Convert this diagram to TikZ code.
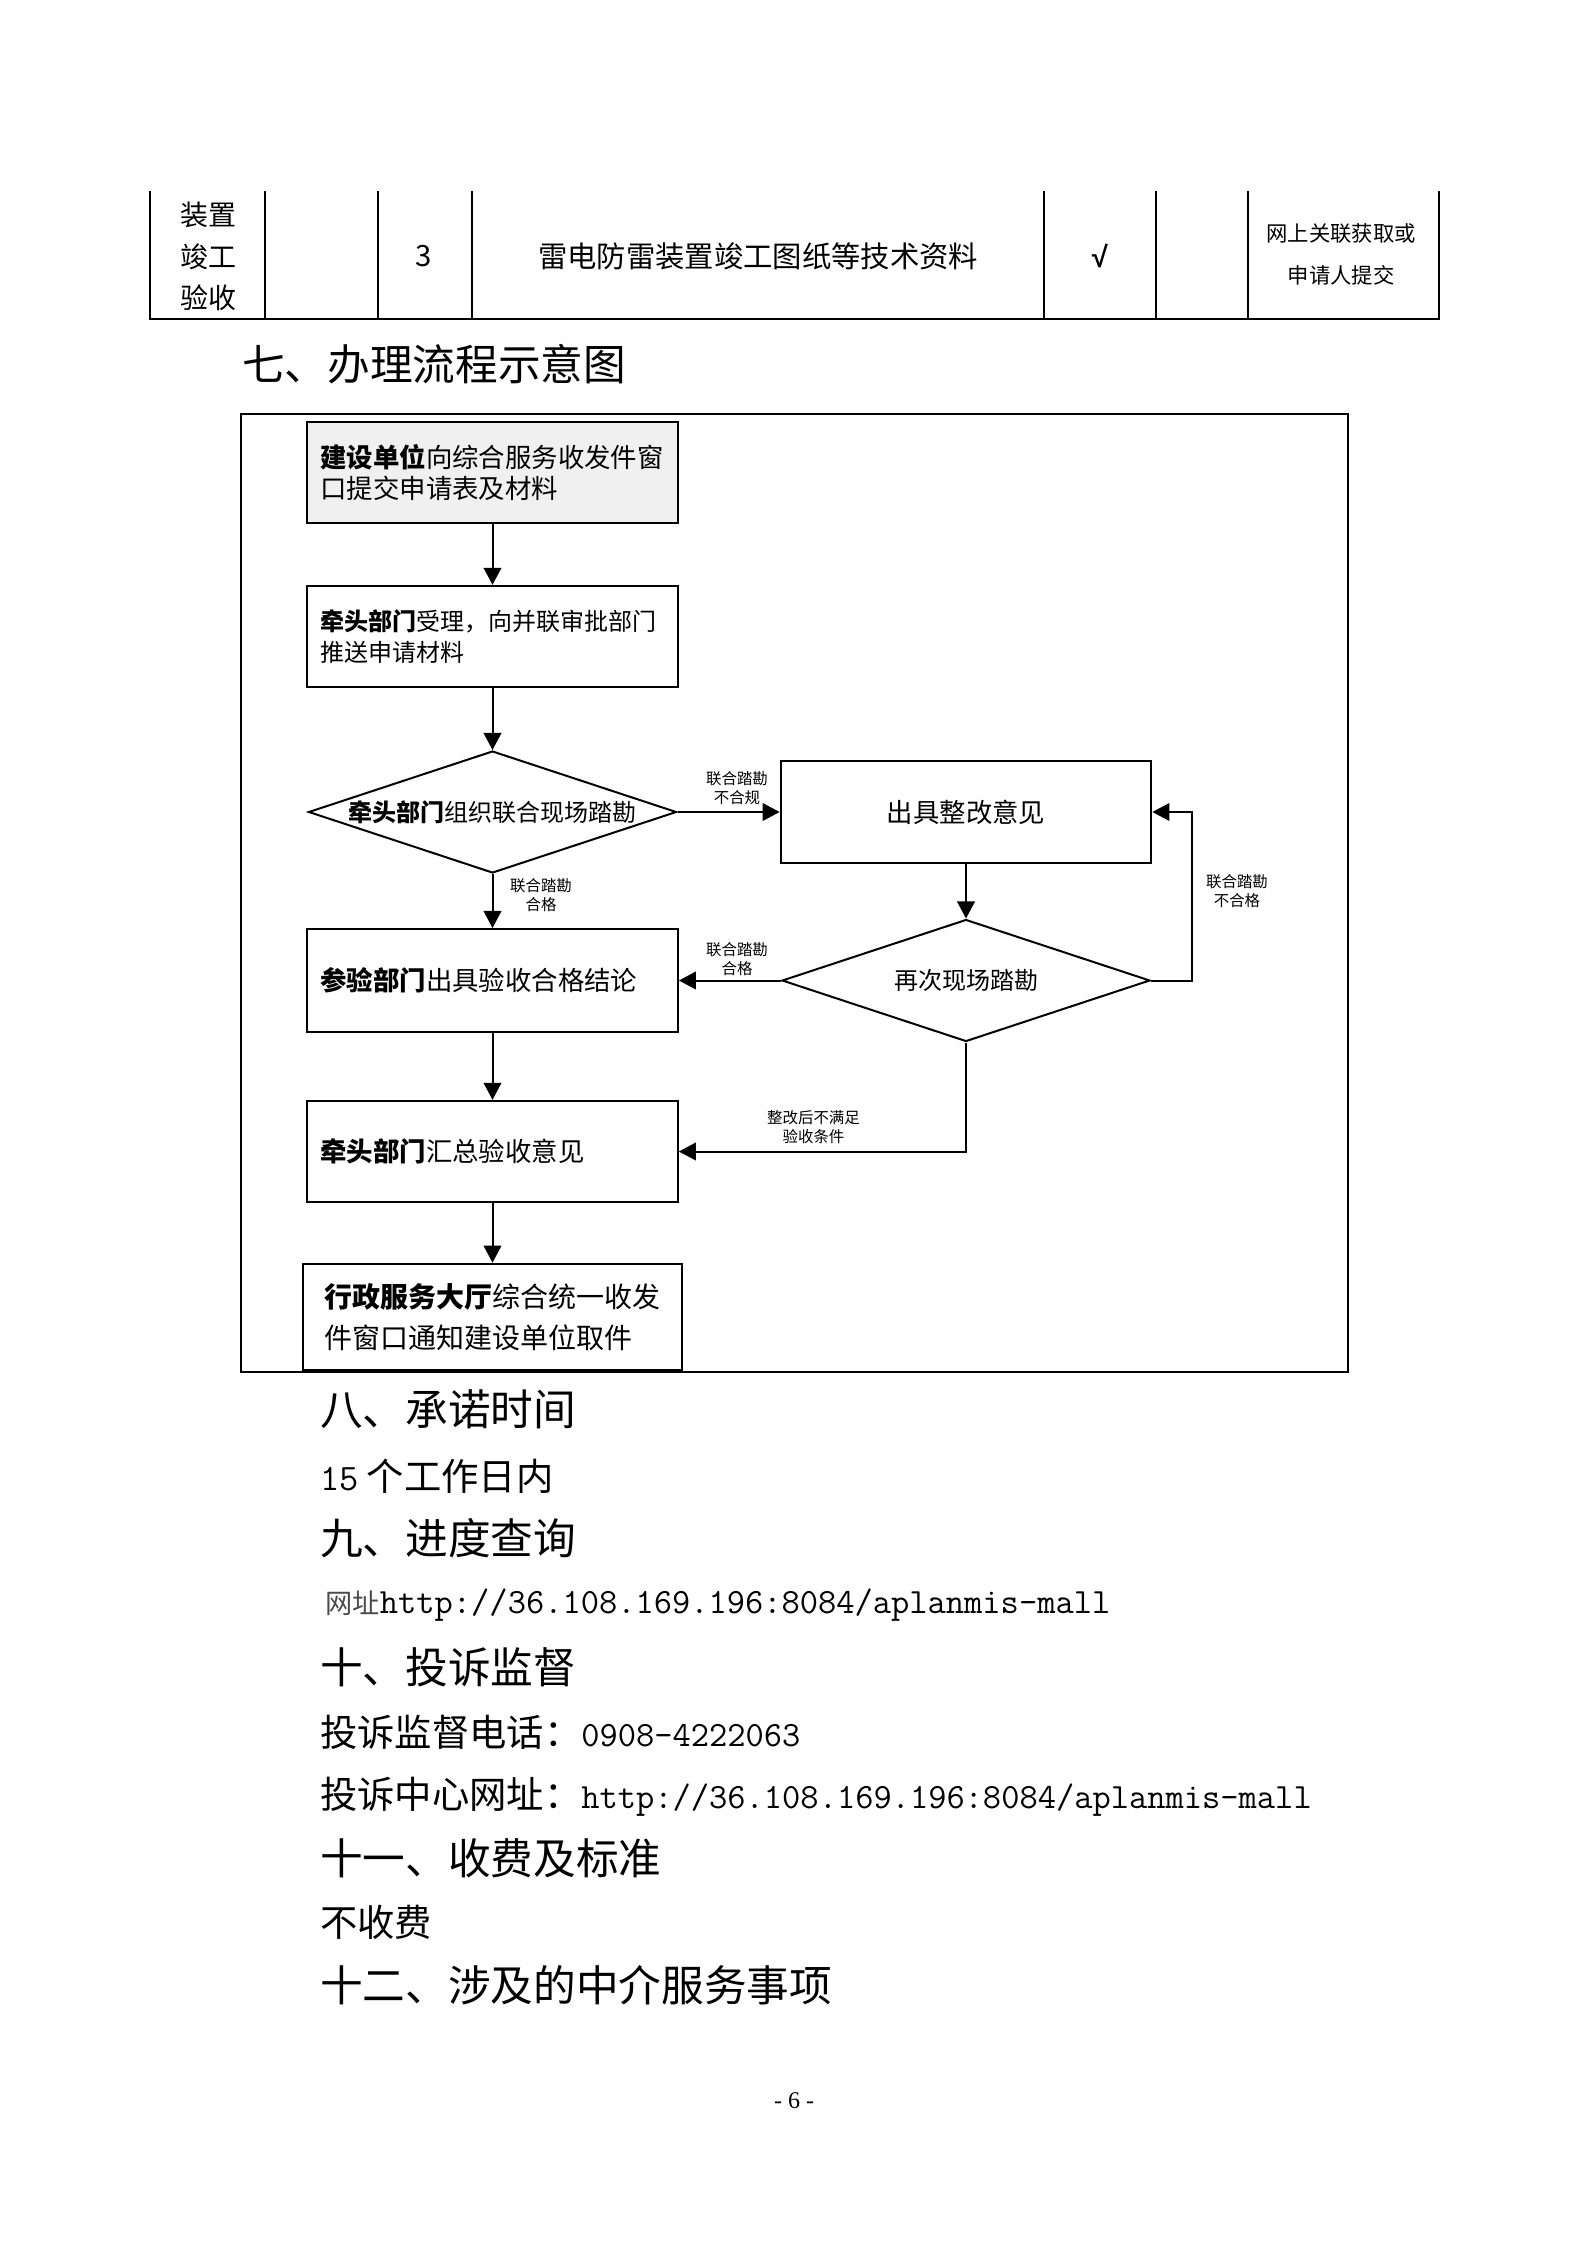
\documentclass[tikz,border=0pt]{standalone}
\usepackage{fontspec}
\setmainfont{Noto Sans CJK SC}
\newfontfamily\pagenumfont{Liberation Serif}
\newfontfamily\tickfont{Liberation Sans}
\usetikzlibrary{arrows.meta,shapes.geometric}

\begin{document}
\begin{tikzpicture}[x=0.375pt,y=-0.375pt,line width=0.75pt,
  >={Triangle[length=6.4pt,width=6.6pt]},
  flowbox/.style={draw,rectangle,minimum width=139pt,minimum height=38pt,
    text width=129pt,inner xsep=5pt,align=left,font=\fontsize{9.9}{11.6}\selectfont},
  decision/.style={draw,diamond,aspect=3,inner sep=0pt,minimum width=138pt,
    minimum height=45.75pt,font=\fontsize{9}{11}\selectfont},
  smalllbl/.style={inner sep=0pt,align=center,font=\fontsize{5.8}{7.1}\selectfont},
  heading/.style={anchor=west,inner sep=0pt,font=\fontsize{16}{19}\selectfont},
  bodyline/.style={anchor=west,inner sep=0pt,font=\fontsize{14}{17}\selectfont},
  tabcell/.style={inner sep=0pt,align=center}]
\fill[white] (0,0) rectangle (1587,2245);
\useasboundingbox (0,0) rectangle (1587,2245);
% ================= table (continued) =================
\draw[line width=0.6pt] (150,191) -- (150,319) -- (1439,319) -- (1439,191);
\draw[line width=0.6pt] (265,191) -- (265,319) (378,191) -- (378,319)
  (472,191) -- (472,319) (1044,191) -- (1044,319)
  (1156,191) -- (1156,319) (1248,191) -- (1248,319);
\node[tabcell,font=\fontsize{10.5}{15.6}\selectfont] (item) at (208,256.5) {装置\\竣工\\验收};
\node[tabcell,font=\fontsize{11}{13}\selectfont] (num) at (424,256) {3};
\node[tabcell,font=\fontsize{11}{13}\selectfont] (doc) at (758,256) {雷电防雷装置竣工图纸等技术资料};
\node[tabcell,font=\tickfont\bfseries\fontsize{11}{13}\selectfont] (tick) at (1100,256) {√};
\node[tabcell,font=\fontsize{8}{15.75}\selectfont] (src) at (1341,254) {网上关联获取或\\申请人提交};
% ================= flow chart =================
\node[heading] (h7) at (241,364) {七、办理流程示意图};
\draw[line width=0.5pt] (241,414) rectangle (1348,1372);
\node[flowbox,fill=black!6] (apply) at (492.5,472.5)
  {\textbf{建设单位}向综合服务收发件窗\\口提交申请表及材料};
\node[flowbox,font=\fontsize{9}{11.6}\selectfont] (accept) at (492.5,636.5)
  {\textbf{牵头部门}受理，向并联审批部门\\推送申请材料};
\node[decision] (survey) at (492.5,812) {\textbf{牵头部门}组织联合现场踏勘};
\node[flowbox,align=center,minimum width=138.75pt] (rectify) at (966,812) {出具整改意见};
\node[decision] (resurvey) at (966,980.5) {再次现场踏勘};
\node[flowbox,minimum height=38.6pt] (pass) at (492.5,980.5) {\textbf{参验部门}出具验收合格结论};
\node[flowbox] (summary) at (492.5,1151.5) {\textbf{牵头部门}汇总验收意见};
\node[flowbox,minimum width=142pt,minimum height=40pt,text width=126pt,inner xsep=8pt,
  font=\fontsize{10.5}{15.4}\selectfont] (notify) at (492.5,1317)
  {\textbf{行政服务大厅}综合统一收发\\件窗口通知建设单位取件};
% connectors
\draw[->] (apply) -- (accept);
\draw[->] (accept) -- (survey);
\draw[->] (survey) -- (rectify);
\draw[->] (survey) -- (pass);
\draw[->] (rectify) -- (resurvey);
\draw[->] (resurvey) -- (pass);
\draw[->] (resurvey.east) -- ++(41,0) |- (rectify.east);
\draw[->] (resurvey.south) |- (summary.east);
\draw[->] (pass) -- (summary);
\draw[->] (summary) -- (notify);
% connector labels
\node[smalllbl] (l1) at (737,788.5) {联合踏勘\\不合规};
\node[smalllbl] (l2) at (541,895) {联合踏勘\\合格};
\node[smalllbl] (l3) at (737,959.5) {联合踏勘\\合格};
\node[smalllbl] (l4) at (1237,891.5) {联合踏勘\\不合格};
\node[smalllbl] (l5) at (813.5,1127.5) {整改后不满足\\验收条件};
% ================= sections 8 - 12 =================
\node[heading] (h8) at (319,1409) {八、承诺时间};
\node[bodyline] (t8) at (319,1476) {{\ttfamily 15} 个工作日内};
\node[heading] (h9) at (319,1538) {九、进度查询};
\node[bodyline] (t9) at (324.5,1605) {{\fontsize{10.2}{12}\selectfont\color{black!70}网址}{\ttfamily\fontsize{13.3}{15}\selectfont http://36.108.169.196:8084/aplanmis-mall}};
\node[heading] (h10) at (319,1667) {十、投诉监督};
\node[bodyline] (t10a) at (319,1732) {投诉监督电话：{\ttfamily\fontsize{13.3}{15}\selectfont 0908-4222063}};
\node[bodyline] (t10b) at (319,1797) {投诉中心网址：{\ttfamily\fontsize{13.3}{15}\selectfont http://36.108.169.196:8084/aplanmis-mall}};
\node[heading] (h11) at (319,1858) {十一、收费及标准};
\node[bodyline] (t11) at (319,1922) {不收费};
\node[heading] (h12) at (319,1985) {十二、涉及的中介服务事项};
\node[font=\pagenumfont\fontsize{9}{11}\selectfont] (page) at (794,2101) {- 6 -};
\end{tikzpicture}
\end{document}
